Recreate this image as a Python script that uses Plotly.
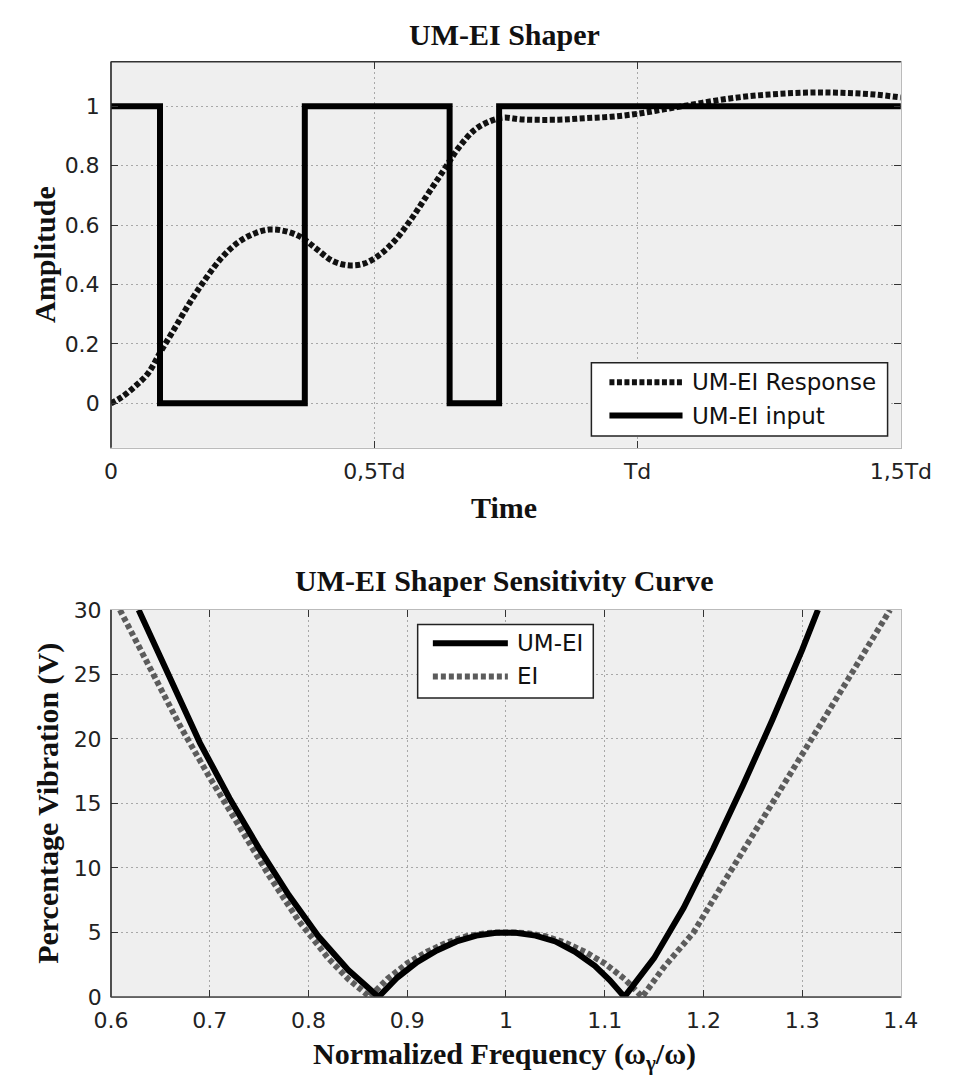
import plotly.graph_objects as go

# ---------------- data ----------------
# Top chart: UM-EI input (step) and response
input_t = [0.0, 0.093, 0.368, 0.643, 0.737, 1.5]
input_v = [1, 0, 1, 0, 1, 1]

resp_t = [0.00, 0.02, 0.045, 0.07, 0.093, 0.12, 0.15, 0.18, 0.21, 0.24, 0.27, 0.30,
          0.33, 0.36, 0.39, 0.42, 0.45, 0.48, 0.51, 0.54, 0.57, 0.60, 0.63, 0.66,
          0.69, 0.72, 0.745, 0.78, 0.85, 0.90, 0.95, 1.00, 1.05, 1.10, 1.15, 1.20,
          1.25, 1.30, 1.35, 1.40, 1.45, 1.50]
resp_v = [0.00, 0.02, 0.056, 0.10, 0.17, 0.25, 0.34, 0.42, 0.49, 0.54, 0.57, 0.585,
          0.58, 0.56, 0.52, 0.48, 0.465, 0.47, 0.50, 0.55, 0.62, 0.70, 0.78, 0.86,
          0.92, 0.95, 0.962, 0.956, 0.955, 0.96, 0.965, 0.975, 0.99, 1.005, 1.02, 1.032,
          1.04, 1.045, 1.047, 1.045, 1.04, 1.03]

top_xticks = [0, 0.5, 1, 1.5]
top_xlabels = ["0", "0,5Td", "Td", "1,5Td"]
top_yticks = [0, 0.2, 0.4, 0.6, 0.8, 1]
top_ylabels = ["0", "0.2", "0.4", "0.6", "0.8", "1"]

# Bottom chart: sensitivity curves
umei_f = [0.628, 0.66, 0.69, 0.72, 0.75, 0.78, 0.81, 0.84, 0.871,
          0.89, 0.91, 0.93, 0.95, 0.97, 0.99, 1.01, 1.03, 1.05, 1.07, 1.09, 1.105, 1.120,
          1.15, 1.18, 1.21, 1.24, 1.27, 1.30, 1.316]
umei_v = [30, 24.6, 19.7, 15.4, 11.5, 7.9, 4.7, 2.1, 0.0,
          1.5, 2.7, 3.6, 4.3, 4.75, 4.97, 4.97, 4.75, 4.3, 3.5, 2.4, 1.3, 0.0,
          3.0, 6.9, 11.5, 16.4, 21.5, 26.9, 30]

ei_f = [0.609, 0.64, 0.67, 0.70, 0.73, 0.76, 0.79, 0.82, 0.84, 0.862,
        0.88, 0.90, 0.92, 0.94, 0.96, 0.98, 1.00, 1.02, 1.04, 1.06, 1.08, 1.10, 1.12, 1.138,
        1.16, 1.19, 1.22, 1.25, 1.28, 1.31, 1.34, 1.37, 1.389]
ei_v = [30, 25.3, 21.0, 17.0, 13.1, 9.4, 5.9, 3.0, 1.4, 0.0,
        1.4, 2.6, 3.5, 4.2, 4.7, 4.95, 5.0, 4.95, 4.7, 4.2, 3.5, 2.6, 1.4, 0.0,
        2.3, 5.0, 8.8, 12.5, 16.2, 19.9, 23.8, 27.6, 30]

bot_xticks = [0.6, 0.7, 0.8, 0.9, 1.0, 1.1, 1.2, 1.3, 1.4]
bot_xlabels = ["0.6", "0.7", "0.8", "0.9", "1", "1.1", "1.2", "1.3", "1.4"]
bot_yticks = [0, 5, 10, 15, 20, 25, 30]
bot_ylabels = ["0", "5", "10", "15", "20", "25", "30"]

# ---------------- layout helpers ----------------
W, H = 967, 1090


def px(x):
    return x / W


def py(y):
    return 1 - y / H


TICK_FONT = dict(family="DejaVu Sans, Arial, sans-serif", size=22, color="#222222")
TITLE_FONT = dict(family="Liberation Serif, Times New Roman, serif", size=30, color="#111111", weight="bold")
LEG_FONT = dict(family="DejaVu Sans, Arial, sans-serif", size=23, color="#111111")
DOT_BLACK = "5px,2.5px"
DOT_GRAY = "5px,3px"

fig = go.Figure()

fig.add_trace(go.Scatter(x=resp_t, y=resp_v, mode="lines", line_shape="spline",
                         line=dict(color="#111111", width=6, dash=DOT_BLACK),
                         xaxis="x", yaxis="y", showlegend=False))
fig.add_trace(go.Scatter(x=input_t, y=input_v, mode="lines", line_shape="hv",
                         line=dict(color="#000000", width=6),
                         xaxis="x", yaxis="y", showlegend=False))

fig.add_trace(go.Scatter(x=ei_f, y=ei_v, mode="lines", line_shape="linear",
                         line=dict(color="#5c5c5c", width=6, dash=DOT_GRAY),
                         xaxis="x2", yaxis="y2", showlegend=False))
fig.add_trace(go.Scatter(x=umei_f, y=umei_v, mode="lines", line_shape="linear",
                         line=dict(color="#000000", width=6),
                         xaxis="x2", yaxis="y2", showlegend=False))

axis_common = dict(showline=True, linecolor="#bbbbbb", linewidth=1, mirror="ticks",
                   ticks="inside", ticklen=7, tickcolor="#333333", tickwidth=1,
                   showgrid=True, gridcolor="#a8a8a8", gridwidth=1, griddash="2px,3px",
                   zeroline=False, tickfont=TICK_FONT)

fig.update_layout(
    width=W, height=H,
    margin=dict(l=0, r=0, t=0, b=0),
    paper_bgcolor="white",
    plot_bgcolor="#efefef",
    showlegend=False,
    xaxis=dict(domain=[px(98), px(930)], range=[0, 1.5], tickvals=top_xticks,
               ticktext=top_xlabels, anchor="y", ticklabelstandoff=4, **axis_common),
    yaxis=dict(domain=[py(446), py(51)], range=[-0.15, 1.15], tickvals=top_yticks,
               ticktext=top_ylabels, anchor="x", ticklabelstandoff=6, **axis_common),
    xaxis2=dict(domain=[px(98), px(930)], range=[0.6, 1.4], tickvals=bot_xticks,
                ticktext=bot_xlabels, anchor="y2", ticklabelstandoff=4, **axis_common),
    yaxis2=dict(domain=[py(1008), py(612)], range=[0, 30], tickvals=bot_yticks,
                ticktext=bot_ylabels, anchor="x2", ticklabelstandoff=4, **axis_common),
)

shapes = []
# darker borders (left/top of top chart, left/bottom of bottom chart)
shapes.append(dict(type="line", xref="paper", yref="paper", x0=px(98), x1=px(98),
                   y0=py(446), y1=py(51), line=dict(color="#222222", width=1.5)))
shapes.append(dict(type="line", xref="paper", yref="paper", x0=px(98), x1=px(930),
                   y0=py(51), y1=py(51), line=dict(color="#333333", width=1.5)))
shapes.append(dict(type="line", xref="paper", yref="paper", x0=px(98), x1=px(98),
                   y0=py(1008), y1=py(612), line=dict(color="#222222", width=1.5)))
shapes.append(dict(type="line", xref="paper", yref="paper", x0=px(98), x1=px(930),
                   y0=py(1008), y1=py(1008), line=dict(color="#444444", width=1.5)))

# top legend box
shapes.append(dict(type="rect", xref="paper", yref="paper", x0=px(604), x1=px(916),
                   y0=py(434), y1=py(359), fillcolor="white",
                   line=dict(color="#222222", width=1.5), layer="above"))
shapes.append(dict(type="line", xref="paper", yref="paper", x0=px(623), x1=px(700),
                   y0=py(379), y1=py(379), line=dict(color="#111111", width=6, dash=DOT_BLACK),
                   layer="above"))
shapes.append(dict(type="line", xref="paper", yref="paper", x0=px(623), x1=px(700),
                   y0=py(413), y1=py(413), line=dict(color="#000000", width=6), layer="above"))

# bottom legend box
shapes.append(dict(type="rect", xref="paper", yref="paper", x0=px(421), x1=px(606),
                   y0=py(702), y1=py(627), fillcolor="white",
                   line=dict(color="#222222", width=1.5), layer="above"))
shapes.append(dict(type="line", xref="paper", yref="paper", x0=px(437), x1=px(516),
                   y0=py(646), y1=py(646), line=dict(color="#000000", width=6), layer="above"))
shapes.append(dict(type="line", xref="paper", yref="paper", x0=px(437), x1=px(516),
                   y0=py(680), y1=py(680), line=dict(color="#5c5c5c", width=6, dash=DOT_GRAY),
                   layer="above"))
fig.update_layout(shapes=shapes)

annotations = [
    dict(text="UM-EI Shaper", x=px(512), y=py(23), font=TITLE_FONT),
    dict(text="Time", x=px(512), y=py(507), font=TITLE_FONT),
    dict(text="Amplitude", x=px(28), y=py(248), font=TITLE_FONT, textangle=-90),
    dict(text="UM-EI Shaper Sensitivity Curve", x=px(512), y=py(582), font=TITLE_FONT),
    dict(text="Normalized Frequency (ω<sub>γ</sub>/ω)", x=px(512), y=py(1068), font=TITLE_FONT),
    dict(text="Percentage Vibration (V)", x=px(32), y=py(810), font=TITLE_FONT, textangle=-90),
    dict(text="UM-EI Response", x=px(708), y=py(379), font=LEG_FONT, xanchor="left"),
    dict(text="UM-EI input", x=px(708), y=py(413), font=LEG_FONT, xanchor="left"),
    dict(text="UM-EI", x=px(524), y=py(646), font=LEG_FONT, xanchor="left"),
    dict(text="EI", x=px(524), y=py(680), font=LEG_FONT, xanchor="left"),
]
for a in annotations:
    a.setdefault("xanchor", "center")
    a.update(xref="paper", yref="paper", yanchor="middle", showarrow=False)
fig.update_layout(annotations=annotations)

fig.write_html("out.html")
